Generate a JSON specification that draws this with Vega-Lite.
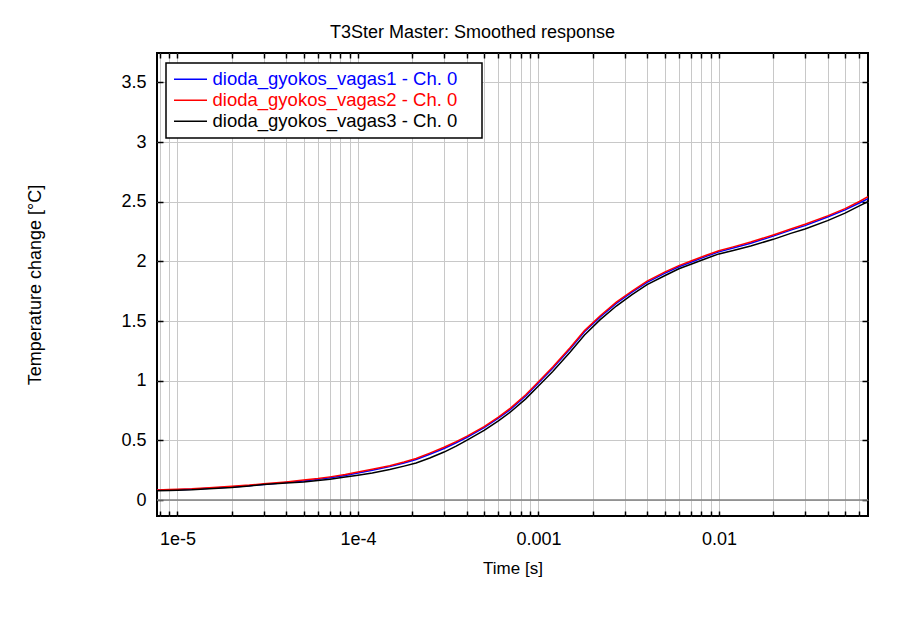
{
  "$schema": "https://vega.github.io/schema/vega-lite/v6.json",
  "autosize": "none",
  "width": 711,
  "height": 463,
  "padding": {"left": 157, "top": 53, "right": 45, "bottom": 101},
  "background": "white",
  "config": {
    "font": "Liberation Sans",
    "view": {"stroke": "black", "strokeWidth": 2},
    "axis": {"labelFont": "Liberation Sans", "titleFont": "Liberation Sans", "labelColor": "black", "titleColor": "black", "titleFontWeight": "normal"}
  },
  "title": {"text": "T3Ster Master: Smoothed response", "fontSize": 18, "fontWeight": "normal", "font": "Liberation Sans", "color": "black", "anchor": "middle", "offset": 10, "dx": -40},
  "datasets": {
    "curves": [
      {"t": 7.7e-6, "v": 0.082, "s": "dioda_gyokos_vagas1 - Ch. 0"},
      {"t": 9e-6, "v": 0.085, "s": "dioda_gyokos_vagas1 - Ch. 0"},
      {"t": 1e-5, "v": 0.087, "s": "dioda_gyokos_vagas1 - Ch. 0"},
      {"t": 1.2e-5, "v": 0.091, "s": "dioda_gyokos_vagas1 - Ch. 0"},
      {"t": 1.5e-5, "v": 0.099, "s": "dioda_gyokos_vagas1 - Ch. 0"},
      {"t": 2e-5, "v": 0.110, "s": "dioda_gyokos_vagas1 - Ch. 0"},
      {"t": 2.5e-5, "v": 0.120, "s": "dioda_gyokos_vagas1 - Ch. 0"},
      {"t": 3e-5, "v": 0.131, "s": "dioda_gyokos_vagas1 - Ch. 0"},
      {"t": 4e-5, "v": 0.146, "s": "dioda_gyokos_vagas1 - Ch. 0"},
      {"t": 5e-5, "v": 0.160, "s": "dioda_gyokos_vagas1 - Ch. 0"},
      {"t": 6e-5, "v": 0.173, "s": "dioda_gyokos_vagas1 - Ch. 0"},
      {"t": 7e-5, "v": 0.187, "s": "dioda_gyokos_vagas1 - Ch. 0"},
      {"t": 8.5e-5, "v": 0.205, "s": "dioda_gyokos_vagas1 - Ch. 0"},
      {"t": 1e-4, "v": 0.226, "s": "dioda_gyokos_vagas1 - Ch. 0"},
      {"t": 1.2e-4, "v": 0.250, "s": "dioda_gyokos_vagas1 - Ch. 0"},
      {"t": 1.5e-4, "v": 0.280, "s": "dioda_gyokos_vagas1 - Ch. 0"},
      {"t": 1.8e-4, "v": 0.310, "s": "dioda_gyokos_vagas1 - Ch. 0"},
      {"t": 2.1e-4, "v": 0.340, "s": "dioda_gyokos_vagas1 - Ch. 0"},
      {"t": 2.5e-4, "v": 0.384, "s": "dioda_gyokos_vagas1 - Ch. 0"},
      {"t": 3e-4, "v": 0.432, "s": "dioda_gyokos_vagas1 - Ch. 0"},
      {"t": 3.5e-4, "v": 0.480, "s": "dioda_gyokos_vagas1 - Ch. 0"},
      {"t": 4e-4, "v": 0.524, "s": "dioda_gyokos_vagas1 - Ch. 0"},
      {"t": 5e-4, "v": 0.606, "s": "dioda_gyokos_vagas1 - Ch. 0"},
      {"t": 6e-4, "v": 0.686, "s": "dioda_gyokos_vagas1 - Ch. 0"},
      {"t": 7e-4, "v": 0.760, "s": "dioda_gyokos_vagas1 - Ch. 0"},
      {"t": 8.5e-4, "v": 0.872, "s": "dioda_gyokos_vagas1 - Ch. 0"},
      {"t": 1e-3, "v": 0.982, "s": "dioda_gyokos_vagas1 - Ch. 0"},
      {"t": 1.2e-3, "v": 1.105, "s": "dioda_gyokos_vagas1 - Ch. 0"},
      {"t": 1.5e-3, "v": 1.268, "s": "dioda_gyokos_vagas1 - Ch. 0"},
      {"t": 1.8e-3, "v": 1.410, "s": "dioda_gyokos_vagas1 - Ch. 0"},
      {"t": 2.2e-3, "v": 1.535, "s": "dioda_gyokos_vagas1 - Ch. 0"},
      {"t": 2.7e-3, "v": 1.648, "s": "dioda_gyokos_vagas1 - Ch. 0"},
      {"t": 3.3e-3, "v": 1.742, "s": "dioda_gyokos_vagas1 - Ch. 0"},
      {"t": 4e-3, "v": 1.825, "s": "dioda_gyokos_vagas1 - Ch. 0"},
      {"t": 5e-3, "v": 1.900, "s": "dioda_gyokos_vagas1 - Ch. 0"},
      {"t": 6e-3, "v": 1.955, "s": "dioda_gyokos_vagas1 - Ch. 0"},
      {"t": 7e-3, "v": 1.993, "s": "dioda_gyokos_vagas1 - Ch. 0"},
      {"t": 8.5e-3, "v": 2.042, "s": "dioda_gyokos_vagas1 - Ch. 0"},
      {"t": 1e-2, "v": 2.080, "s": "dioda_gyokos_vagas1 - Ch. 0"},
      {"t": 1.2e-2, "v": 2.112, "s": "dioda_gyokos_vagas1 - Ch. 0"},
      {"t": 1.5e-2, "v": 2.152, "s": "dioda_gyokos_vagas1 - Ch. 0"},
      {"t": 2e-2, "v": 2.212, "s": "dioda_gyokos_vagas1 - Ch. 0"},
      {"t": 2.5e-2, "v": 2.262, "s": "dioda_gyokos_vagas1 - Ch. 0"},
      {"t": 3e-2, "v": 2.300, "s": "dioda_gyokos_vagas1 - Ch. 0"},
      {"t": 4e-2, "v": 2.372, "s": "dioda_gyokos_vagas1 - Ch. 0"},
      {"t": 5e-2, "v": 2.432, "s": "dioda_gyokos_vagas1 - Ch. 0"},
      {"t": 6e-2, "v": 2.490, "s": "dioda_gyokos_vagas1 - Ch. 0"},
      {"t": 6.7e-2, "v": 2.525, "s": "dioda_gyokos_vagas1 - Ch. 0"},

      {"t": 7.7e-6, "v": 0.084, "s": "dioda_gyokos_vagas2 - Ch. 0"},
      {"t": 9e-6, "v": 0.088, "s": "dioda_gyokos_vagas2 - Ch. 0"},
      {"t": 1e-5, "v": 0.090, "s": "dioda_gyokos_vagas2 - Ch. 0"},
      {"t": 1.2e-5, "v": 0.094, "s": "dioda_gyokos_vagas2 - Ch. 0"},
      {"t": 1.5e-5, "v": 0.103, "s": "dioda_gyokos_vagas2 - Ch. 0"},
      {"t": 2e-5, "v": 0.115, "s": "dioda_gyokos_vagas2 - Ch. 0"},
      {"t": 2.5e-5, "v": 0.125, "s": "dioda_gyokos_vagas2 - Ch. 0"},
      {"t": 3e-5, "v": 0.136, "s": "dioda_gyokos_vagas2 - Ch. 0"},
      {"t": 4e-5, "v": 0.152, "s": "dioda_gyokos_vagas2 - Ch. 0"},
      {"t": 5e-5, "v": 0.167, "s": "dioda_gyokos_vagas2 - Ch. 0"},
      {"t": 6e-5, "v": 0.180, "s": "dioda_gyokos_vagas2 - Ch. 0"},
      {"t": 7e-5, "v": 0.194, "s": "dioda_gyokos_vagas2 - Ch. 0"},
      {"t": 8.5e-5, "v": 0.213, "s": "dioda_gyokos_vagas2 - Ch. 0"},
      {"t": 1e-4, "v": 0.234, "s": "dioda_gyokos_vagas2 - Ch. 0"},
      {"t": 1.2e-4, "v": 0.258, "s": "dioda_gyokos_vagas2 - Ch. 0"},
      {"t": 1.5e-4, "v": 0.288, "s": "dioda_gyokos_vagas2 - Ch. 0"},
      {"t": 1.8e-4, "v": 0.318, "s": "dioda_gyokos_vagas2 - Ch. 0"},
      {"t": 2.1e-4, "v": 0.348, "s": "dioda_gyokos_vagas2 - Ch. 0"},
      {"t": 2.5e-4, "v": 0.393, "s": "dioda_gyokos_vagas2 - Ch. 0"},
      {"t": 3e-4, "v": 0.442, "s": "dioda_gyokos_vagas2 - Ch. 0"},
      {"t": 3.5e-4, "v": 0.489, "s": "dioda_gyokos_vagas2 - Ch. 0"},
      {"t": 4e-4, "v": 0.533, "s": "dioda_gyokos_vagas2 - Ch. 0"},
      {"t": 5e-4, "v": 0.615, "s": "dioda_gyokos_vagas2 - Ch. 0"},
      {"t": 6e-4, "v": 0.695, "s": "dioda_gyokos_vagas2 - Ch. 0"},
      {"t": 7e-4, "v": 0.770, "s": "dioda_gyokos_vagas2 - Ch. 0"},
      {"t": 8.5e-4, "v": 0.882, "s": "dioda_gyokos_vagas2 - Ch. 0"},
      {"t": 1e-3, "v": 0.992, "s": "dioda_gyokos_vagas2 - Ch. 0"},
      {"t": 1.2e-3, "v": 1.115, "s": "dioda_gyokos_vagas2 - Ch. 0"},
      {"t": 1.5e-3, "v": 1.278, "s": "dioda_gyokos_vagas2 - Ch. 0"},
      {"t": 1.8e-3, "v": 1.420, "s": "dioda_gyokos_vagas2 - Ch. 0"},
      {"t": 2.2e-3, "v": 1.545, "s": "dioda_gyokos_vagas2 - Ch. 0"},
      {"t": 2.7e-3, "v": 1.658, "s": "dioda_gyokos_vagas2 - Ch. 0"},
      {"t": 3.3e-3, "v": 1.752, "s": "dioda_gyokos_vagas2 - Ch. 0"},
      {"t": 4e-3, "v": 1.835, "s": "dioda_gyokos_vagas2 - Ch. 0"},
      {"t": 5e-3, "v": 1.910, "s": "dioda_gyokos_vagas2 - Ch. 0"},
      {"t": 6e-3, "v": 1.965, "s": "dioda_gyokos_vagas2 - Ch. 0"},
      {"t": 7e-3, "v": 2.003, "s": "dioda_gyokos_vagas2 - Ch. 0"},
      {"t": 8.5e-3, "v": 2.052, "s": "dioda_gyokos_vagas2 - Ch. 0"},
      {"t": 1e-2, "v": 2.090, "s": "dioda_gyokos_vagas2 - Ch. 0"},
      {"t": 1.2e-2, "v": 2.122, "s": "dioda_gyokos_vagas2 - Ch. 0"},
      {"t": 1.5e-2, "v": 2.162, "s": "dioda_gyokos_vagas2 - Ch. 0"},
      {"t": 2e-2, "v": 2.222, "s": "dioda_gyokos_vagas2 - Ch. 0"},
      {"t": 2.5e-2, "v": 2.272, "s": "dioda_gyokos_vagas2 - Ch. 0"},
      {"t": 3e-2, "v": 2.312, "s": "dioda_gyokos_vagas2 - Ch. 0"},
      {"t": 4e-2, "v": 2.382, "s": "dioda_gyokos_vagas2 - Ch. 0"},
      {"t": 5e-2, "v": 2.442, "s": "dioda_gyokos_vagas2 - Ch. 0"},
      {"t": 6e-2, "v": 2.502, "s": "dioda_gyokos_vagas2 - Ch. 0"},
      {"t": 6.7e-2, "v": 2.542, "s": "dioda_gyokos_vagas2 - Ch. 0"},

      {"t": 7.7e-6, "v": 0.078, "s": "dioda_gyokos_vagas3 - Ch. 0"},
      {"t": 9e-6, "v": 0.080, "s": "dioda_gyokos_vagas3 - Ch. 0"},
      {"t": 1e-5, "v": 0.082, "s": "dioda_gyokos_vagas3 - Ch. 0"},
      {"t": 1.2e-5, "v": 0.085, "s": "dioda_gyokos_vagas3 - Ch. 0"},
      {"t": 1.5e-5, "v": 0.095, "s": "dioda_gyokos_vagas3 - Ch. 0"},
      {"t": 2e-5, "v": 0.104, "s": "dioda_gyokos_vagas3 - Ch. 0"},
      {"t": 2.5e-5, "v": 0.118, "s": "dioda_gyokos_vagas3 - Ch. 0"},
      {"t": 3e-5, "v": 0.130, "s": "dioda_gyokos_vagas3 - Ch. 0"},
      {"t": 4e-5, "v": 0.142, "s": "dioda_gyokos_vagas3 - Ch. 0"},
      {"t": 5e-5, "v": 0.152, "s": "dioda_gyokos_vagas3 - Ch. 0"},
      {"t": 6e-5, "v": 0.163, "s": "dioda_gyokos_vagas3 - Ch. 0"},
      {"t": 7e-5, "v": 0.175, "s": "dioda_gyokos_vagas3 - Ch. 0"},
      {"t": 8.5e-5, "v": 0.192, "s": "dioda_gyokos_vagas3 - Ch. 0"},
      {"t": 1e-4, "v": 0.207, "s": "dioda_gyokos_vagas3 - Ch. 0"},
      {"t": 1.2e-4, "v": 0.226, "s": "dioda_gyokos_vagas3 - Ch. 0"},
      {"t": 1.5e-4, "v": 0.255, "s": "dioda_gyokos_vagas3 - Ch. 0"},
      {"t": 1.8e-4, "v": 0.284, "s": "dioda_gyokos_vagas3 - Ch. 0"},
      {"t": 2.1e-4, "v": 0.310, "s": "dioda_gyokos_vagas3 - Ch. 0"},
      {"t": 2.5e-4, "v": 0.352, "s": "dioda_gyokos_vagas3 - Ch. 0"},
      {"t": 3e-4, "v": 0.402, "s": "dioda_gyokos_vagas3 - Ch. 0"},
      {"t": 3.5e-4, "v": 0.452, "s": "dioda_gyokos_vagas3 - Ch. 0"},
      {"t": 4e-4, "v": 0.500, "s": "dioda_gyokos_vagas3 - Ch. 0"},
      {"t": 5e-4, "v": 0.583, "s": "dioda_gyokos_vagas3 - Ch. 0"},
      {"t": 6e-4, "v": 0.664, "s": "dioda_gyokos_vagas3 - Ch. 0"},
      {"t": 7e-4, "v": 0.738, "s": "dioda_gyokos_vagas3 - Ch. 0"},
      {"t": 8.5e-4, "v": 0.848, "s": "dioda_gyokos_vagas3 - Ch. 0"},
      {"t": 1e-3, "v": 0.956, "s": "dioda_gyokos_vagas3 - Ch. 0"},
      {"t": 1.2e-3, "v": 1.078, "s": "dioda_gyokos_vagas3 - Ch. 0"},
      {"t": 1.5e-3, "v": 1.240, "s": "dioda_gyokos_vagas3 - Ch. 0"},
      {"t": 1.8e-3, "v": 1.383, "s": "dioda_gyokos_vagas3 - Ch. 0"},
      {"t": 2.2e-3, "v": 1.512, "s": "dioda_gyokos_vagas3 - Ch. 0"},
      {"t": 2.7e-3, "v": 1.626, "s": "dioda_gyokos_vagas3 - Ch. 0"},
      {"t": 3.3e-3, "v": 1.722, "s": "dioda_gyokos_vagas3 - Ch. 0"},
      {"t": 4e-3, "v": 1.806, "s": "dioda_gyokos_vagas3 - Ch. 0"},
      {"t": 5e-3, "v": 1.880, "s": "dioda_gyokos_vagas3 - Ch. 0"},
      {"t": 6e-3, "v": 1.938, "s": "dioda_gyokos_vagas3 - Ch. 0"},
      {"t": 7e-3, "v": 1.976, "s": "dioda_gyokos_vagas3 - Ch. 0"},
      {"t": 8.5e-3, "v": 2.025, "s": "dioda_gyokos_vagas3 - Ch. 0"},
      {"t": 1e-2, "v": 2.063, "s": "dioda_gyokos_vagas3 - Ch. 0"},
      {"t": 1.2e-2, "v": 2.092, "s": "dioda_gyokos_vagas3 - Ch. 0"},
      {"t": 1.5e-2, "v": 2.130, "s": "dioda_gyokos_vagas3 - Ch. 0"},
      {"t": 2e-2, "v": 2.185, "s": "dioda_gyokos_vagas3 - Ch. 0"},
      {"t": 2.5e-2, "v": 2.235, "s": "dioda_gyokos_vagas3 - Ch. 0"},
      {"t": 3e-2, "v": 2.272, "s": "dioda_gyokos_vagas3 - Ch. 0"},
      {"t": 4e-2, "v": 2.342, "s": "dioda_gyokos_vagas3 - Ch. 0"},
      {"t": 5e-2, "v": 2.405, "s": "dioda_gyokos_vagas3 - Ch. 0"},
      {"t": 6e-2, "v": 2.465, "s": "dioda_gyokos_vagas3 - Ch. 0"},
      {"t": 6.7e-2, "v": 2.500, "s": "dioda_gyokos_vagas3 - Ch. 0"}
    ],
    "zero": [{"v": 0}]
  },
  "resolve": {"axis": {"x": "independent", "y": "independent"}},
  "layer": [
    {
      "data": {"name": "zero"},
      "mark": {"type": "rule", "color": "#808080", "strokeWidth": 1.5},
      "encoding": {
        "y": {"field": "v", "type": "quantitative", "scale": {"domain": [-0.134, 3.747], "nice": false, "zero": false},
          "axis": {"orient": "right", "values": [0, 0.5, 1, 1.5, 2, 2.5, 3, 3.5], "labels": false, "title": null, "domain": false, "grid": false, "tickSize": -6, "tickColor": "black", "tickWidth": 1.5}}
      }
    },
    {
      "data": {"name": "curves"},
      "mark": {"type": "line", "strokeWidth": 1.5, "clip": true},
      "encoding": {
        "x": {"field": "t", "type": "quantitative",
          "scale": {"type": "log", "domain": [7.7e-6, 0.067], "nice": false},
          "axis": {"orient": "bottom", "title": "Time [s]", "titleFontSize": 17, "titlePadding": 12, "labelFontSize": 18, "labelPadding": 19,
            "values": [8e-6, 9e-6, 1e-5, 2e-5, 3e-5, 4e-5, 5e-5, 6e-5, 7e-5, 8e-5, 9e-5, 1e-4, 2e-4, 3e-4, 4e-4, 5e-4, 6e-4, 7e-4, 8e-4, 9e-4, 1e-3, 2e-3, 3e-3, 4e-3, 5e-3, 6e-3, 7e-3, 8e-3, 9e-3, 1e-2, 2e-2, 3e-2, 4e-2, 5e-2, 6e-2],
            "labelExpr": "abs(datum.value - 1e-5) < 1e-7 ? '1e-5' : abs(datum.value - 1e-4) < 1e-6 ? '1e-4' : abs(datum.value - 1e-3) < 1e-5 ? '0.001' : abs(datum.value - 1e-2) < 1e-4 ? '0.01' : ''",
            "labelOverlap": false, "labelFlush": false,
            "grid": true, "gridColor": "#c8c8c8", "gridWidth": 1, "domain": false, "tickSize": -5, "tickColor": "black", "tickWidth": 1.5}},
        "y": {"field": "v", "type": "quantitative",
          "axis": {"orient": "left", "title": "Temperature change [°C]", "titleFontSize": 18, "titlePadding": 76, "labelFontSize": 18, "labelPadding": 17,
            "values": [0, 0.5, 1, 1.5, 2, 2.5, 3, 3.5], "labelExpr": "datum.value == 0 ? '0' : format(datum.value, '~g')",
            "grid": true, "gridColor": "#c8c8c8", "gridWidth": 1, "domain": false, "tickSize": -6, "tickColor": "black", "tickWidth": 1.5}},
        "color": {"field": "s", "type": "nominal",
          "scale": {"domain": ["dioda_gyokos_vagas1 - Ch. 0", "dioda_gyokos_vagas2 - Ch. 0", "dioda_gyokos_vagas3 - Ch. 0"], "range": ["#0000ff", "#ff0000", "#000000"]},
          "legend": {"title": "\u00a0", "titleOrient": "right", "titlePadding": 18, "titleFontSize": 4, "orient": "none", "legendX": 9, "legendY": 10, "fillColor": "white", "strokeColor": "black", "padding": 7,
            "symbolType": "M-1.5,0H4.5", "symbolSize": 121, "symbolStrokeWidth": 1.5, "labelFontSize": 18.5, "labelFont": "Liberation Sans", "labelOffset": 21, "labelLimit": 500, "rowPadding": 2,
            "encode": {"legend": {"update": {"strokeWidth": {"value": 1.5}}}, "labels": {"update": {"fill": {"scale": "color", "field": "value"}}}}}}
      }
    },
    {
      "data": {"name": "zero"},
      "mark": {"type": "rule", "opacity": 0},
      "encoding": {
        "x": {"datum": 1e-3, "type": "quantitative",
          "axis": {"orient": "top", "title": null, "labels": false, "grid": false, "domain": false,
            "values": [8e-6, 9e-6, 1e-5, 2e-5, 3e-5, 4e-5, 5e-5, 6e-5, 7e-5, 8e-5, 9e-5, 1e-4, 2e-4, 3e-4, 4e-4, 5e-4, 6e-4, 7e-4, 8e-4, 9e-4, 1e-3, 2e-3, 3e-3, 4e-3, 5e-3, 6e-3, 7e-3, 8e-3, 9e-3, 1e-2, 2e-2, 3e-2, 4e-2, 5e-2, 6e-2],
            "tickSize": -5, "tickColor": "black", "tickWidth": 1.5}}
      }
    }
  ]
}
